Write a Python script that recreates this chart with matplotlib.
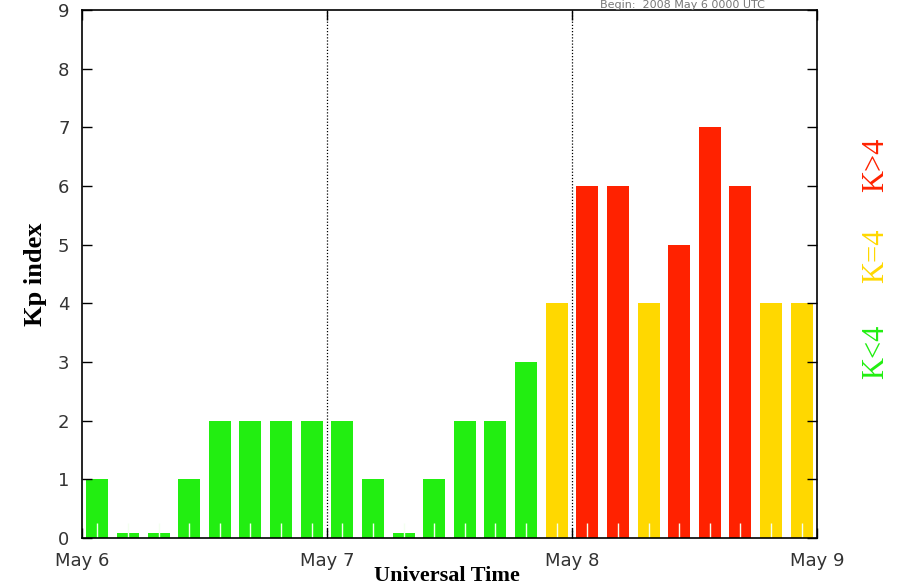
import numpy as np
import matplotlib
matplotlib.use("Agg")
import matplotlib.pyplot as plt

# 3-hourly Kp values, May 6 00 UT .. May 8 21 UT
kp = [1, 0, 0, 1, 2, 2, 2, 2,
      2, 1, 0, 1, 2, 2, 3, 4,
      6, 6, 4, 5, 7, 6, 4, 4]
day_labels = ["May 6", "May 7", "May 8", "May 9"]
legend_labels = ["K<4", "K=4", "K>4"]

GREEN = "#22ee11"
YELLOW = "#ffd800"
RED = "#ff2200"


def kp_color(k):
    if k < 4:
        return GREEN
    if k == 4:
        return YELLOW
    return RED


kp = np.array(kp)
x = np.arange(len(kp)) * 3 + 1.5   # hours since May 6 00 UT, bar centres
heights = np.maximum(kp, 0.08)       # zero values still shown as a sliver
colors = [kp_color(k) for k in kp]

fig = plt.figure(figsize=(9.01, 5.88), dpi=100)
ax = fig.add_axes([82 / 901, 50 / 588, 735 / 901, 528 / 588])

ax.bar(x, heights, width=2.15, color=colors, zorder=1)

# day boundaries
for d in (24, 48):
    ax.axvline(d, color="black", linestyle=(0, (1, 1.5)), linewidth=0.9, zorder=3)

ax.set_xlim(0, 72)
ax.set_ylim(0, 9)
ax.set_xticks([0, 24, 48, 72])
ax.set_xticklabels(day_labels)
ax.set_xticks(np.arange(1.5, 72, 3), minor=True)
ax.set_yticks(range(10))

ax.tick_params(axis="both", which="major", direction="in", length=7, width=1,
               top=True, right=True, labelsize=13)
ax.tick_params(axis="x", which="major", pad=10)
ax.tick_params(axis="y", which="major", pad=9)
ax.tick_params(axis="x", which="minor", direction="in", length=11, width=1,
               color="#f4fff0", top=False)
for lab in ax.get_xticklabels() + ax.get_yticklabels():
    lab.set_family("DejaVu Sans")
    lab.set_color("#333333")

for s in ax.spines.values():
    s.set_linewidth(1.2)

ax.set_ylabel("Kp index", family="Liberation Serif", fontweight="bold",
              fontsize=19, labelpad=8)
fig.text(447 / 901, 2 / 588, "Universal Time", family="Liberation Serif",
         fontweight="bold", fontsize=16, ha="center", va="bottom")

# colour key on the right
key_y = [352, 256, 165]
for lab, col, yy in zip(legend_labels, [GREEN, YELLOW, RED], key_y):
    fig.text(876 / 901, 1 - yy / 588, lab, rotation=90, color=col,
             family="Liberation Serif", fontsize=22, ha="center", va="center")

# header text above the plot
fig.text(600 / 901, 1 - 0.5 / 588, "Begin:  2008 May 6 0000 UTC", color="#777777",
         family="DejaVu Sans", fontsize=8, ha="left", va="top")

fig.savefig("out.png", dpi=100)
